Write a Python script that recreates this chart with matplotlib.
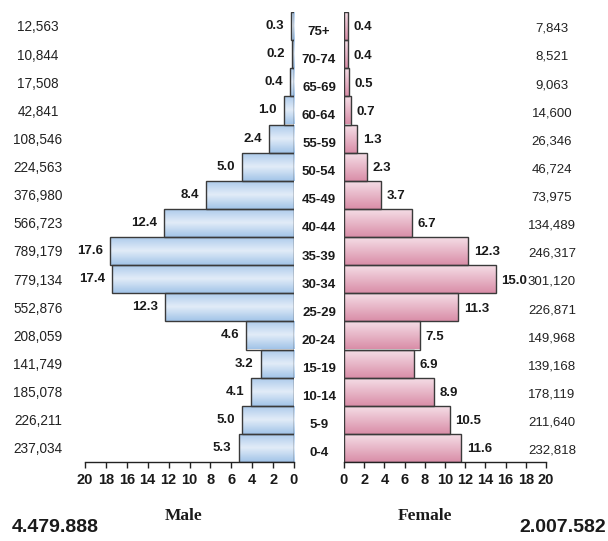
import matplotlib
matplotlib.use("Agg")
import matplotlib.pyplot as plt
import numpy as np
from matplotlib.patches import Rectangle
from matplotlib.colors import LinearSegmentedColormap

SANS = "Liberation Sans"

ages = ["0-4", "5-9", "10-14", "15-19", "20-24", "25-29", "30-34", "35-39",
        "40-44", "45-49", "50-54", "55-59", "60-64", "65-69", "70-74", "75+"]
male_pct = [5.3, 5.0, 4.1, 3.2, 4.6, 12.3, 17.4, 17.6, 12.4, 8.4, 5.0, 2.4, 1.0, 0.4, 0.2, 0.3]
male_cnt = ["237,034", "226,211", "185,078", "141,749", "208,059", "552,876", "779,134",
            "789,179", "566,723", "376,980", "224,563", "108,546", "42,841", "17,508",
            "10,844", "12,563"]
female_pct = [11.6, 10.5, 8.9, 6.9, 7.5, 11.3, 15.0, 12.3, 6.7, 3.7, 2.3, 1.3, 0.7, 0.5, 0.4, 0.4]
female_cnt = ["232,818", "211,640", "178,119", "139,168", "149,968", "226,871", "301,120",
              "246,317", "134,489", "73,975", "46,724", "26,346", "14,600", "9,063",
              "8,521", "7,843"]
ticks = [0, 2, 4, 6, 8, 10, 12, 14, 16, 18, 20]
male_total = "4.479.888"
female_total = "2.007.582"

fig = plt.figure(figsize=(6.08, 5.41), dpi=100)
fig.patch.set_facecolor("white")
axL = fig.add_axes([85/608, 79/541, 209/608, 450/541])
axR = fig.add_axes([344/608, 79/541, 202/608, 450/541])

blue = LinearSegmentedColormap.from_list("b", ["#a2c4e8", "#e2ecf8", "#aac9ea"])
pink = LinearSegmentedColormap.from_list("p", ["#d98ea8", "#f6e0e8"])
grad = np.linspace(0, 1, 64).reshape(-1, 1)
y = np.arange(len(ages))

def draw(ax, vals, cmap):
    for yi, v in zip(y, vals):
        im = ax.imshow(grad, cmap=cmap, aspect="auto", extent=[0, v, yi + 0.5, yi - 0.5],
                       origin="upper", zorder=1, interpolation="bilinear")
        r = Rectangle((0, yi - 0.5), v, 1.0, facecolor="none", edgecolor="#3a3a3a",
                      linewidth=1.0, zorder=2)
        ax.add_patch(r)
        im.set_clip_path(r)

draw(axL, male_pct, blue)
draw(axR, female_pct, pink)

for ax in (axL, axR):
    ax.set_ylim(-0.5, 15.5)
    ax.set_yticks([])
    for s in ("top", "right", "left"):
        ax.spines[s].set_visible(False)
    ax.spines["bottom"].set_color("#222222")
    ax.spines["bottom"].set_linewidth(1.0)
    ax.set_xticks(ticks)
    ax.tick_params(axis="x", direction="out", length=4, width=1.0, pad=4,
                   color="#222222")
    ax.set_xticklabels([str(t) for t in ticks], fontfamily=SANS, fontweight="bold",
                       fontsize=10.5, color="#1a1a1a")
    ax.patch.set_alpha(0)

axL.set_xlim(20, 0)
axR.set_xlim(0, 20)

for yi, v in zip(y, male_pct):
    axL.annotate(f"{v:.1f}", (v, yi), xytext=(-5, 0), textcoords="offset points",
                 ha="right", va="center", fontfamily=SANS, fontweight="bold",
                 fontsize=9.5, color="#1a1a1a")
for yi, v in zip(y, female_pct):
    axR.annotate(f"{v:.1f}", (v, yi), xytext=(4, -1), textcoords="offset points",
                 ha="left", va="center", fontfamily=SANS, fontweight="bold",
                 fontsize=9.5, color="#1a1a1a")

for yi, a, mc, fc in zip(y, ages, male_cnt, female_cnt):
    axL.annotate(a, (319/608, yi), xycoords=(fig.transFigure, axL.transData),
                 xytext=(0, -4), textcoords="offset points", ha="center", va="center",
                 fontfamily=SANS, fontweight="bold", fontsize=9.5, color="#1a1a1a")
    axL.annotate(mc, (38/608, yi), xycoords=(fig.transFigure, axL.transData),
                 xytext=(0, -1), textcoords="offset points", ha="center", va="center",
                 fontfamily=SANS, fontsize=9.8, color="#222222")
    axR.annotate(fc, (552/608, yi), xycoords=(fig.transFigure, axR.transData),
                 xytext=(0, -2), textcoords="offset points", ha="center", va="center",
                 fontfamily=SANS, fontsize=9.5, color="#222222")

fig.text(184/608, 1 - 516/541, "Male", ha="center", va="center",
         fontfamily="Liberation Serif", fontweight="bold", fontsize=12.5, color="#1a1a1a")
fig.text(425/608, 1 - 516/541, "Female", ha="center", va="center",
         fontfamily="Liberation Serif", fontweight="bold", fontsize=12.5, color="#1a1a1a")
fig.text(12/608, 1 - 527/541, male_total, ha="left", va="center",
         fontfamily=SANS, fontweight="bold", fontsize=14, color="#1a1a1a")
fig.text(606/608, 1 - 527/541, female_total, ha="right", va="center",
         fontfamily=SANS, fontweight="bold", fontsize=14, color="#1a1a1a")

fig.savefig("out.png", dpi=100, facecolor="white")
